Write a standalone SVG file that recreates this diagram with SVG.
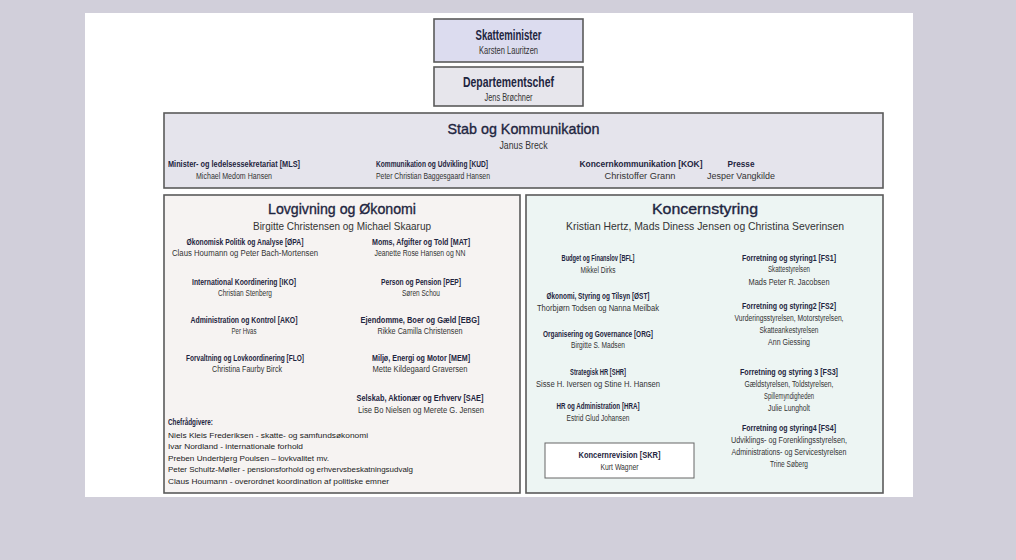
<svg xmlns="http://www.w3.org/2000/svg" width="1016" height="560" viewBox="0 0 1016 560">
<style>
text{font-family:"Liberation Sans","DejaVu Sans",sans-serif;}
.box{stroke:#5a5a5a;stroke-width:1.6;}
.t1{font-size:14px;font-weight:bold;fill:#1e2540;text-anchor:middle;}
.t2{font-size:15px;fill:#1e2540;text-anchor:middle;stroke:#1e2540;stroke-width:0.35;}
.s1{font-size:11px;fill:#333;text-anchor:middle;}
.h{font-size:8.8px;font-weight:bold;fill:#1e2540;text-anchor:middle;}
.n{font-size:8.5px;fill:#333;text-anchor:middle;}
.c{font-size:7.5px;fill:#222;}
.cb{font-size:8.5px;font-weight:bold;fill:#1e2540;}
</style>
<rect x="0" y="0" width="1016" height="560" fill="#d1cfda"/>
<rect x="85" y="13" width="828" height="484" fill="#ffffff"/>

<g id="skatteminister">
<rect class="box" x="434" y="19" width="149" height="43" fill="#dcdcef"/>
<text class="t1" x="508.5" y="40" textLength="66" lengthAdjust="spacingAndGlyphs">Skatteminister</text>
<text class="s1" x="508.5" y="54" textLength="59" lengthAdjust="spacingAndGlyphs">Karsten Lauritzen</text>
</g>

<g id="departementschef">
<rect class="box" x="434" y="67" width="149" height="39" fill="#e7e6ec"/>
<text class="t1" x="508.5" y="87" textLength="91" lengthAdjust="spacingAndGlyphs">Departementschef</text>
<text class="s1" x="508.5" y="101" textLength="48" lengthAdjust="spacingAndGlyphs">Jens Brøchner</text>
</g>

<g id="stab">
<rect class="box" x="164" y="113" width="719" height="75" fill="#e5e4ec"/>
<text class="t2" x="523.5" y="134" textLength="152" lengthAdjust="spacingAndGlyphs">Stab og Kommunikation</text>
<text class="s1" x="523.5" y="149" textLength="48" lengthAdjust="spacingAndGlyphs">Janus Breck</text>
<text class="h" x="234" y="167" textLength="132" lengthAdjust="spacingAndGlyphs">Minister- og ledelsessekretariat [MLS]</text>
<text class="n" x="234" y="179" textLength="76" lengthAdjust="spacingAndGlyphs">Michael Medom Hansen</text>
<text class="h" x="432" y="167" textLength="112" lengthAdjust="spacingAndGlyphs">Kommunikation og Udvikling [KUD]</text>
<text class="n" x="433" y="179" textLength="114" lengthAdjust="spacingAndGlyphs">Peter Christian Baggesgaard Hansen</text>
<text class="h" x="641" y="167" textLength="123" lengthAdjust="spacingAndGlyphs">Koncernkommunikation [KOK]</text>
<text class="n" x="640" y="179" textLength="71" lengthAdjust="spacingAndGlyphs">Christoffer Grann</text>
<text class="h" x="741" y="167" textLength="27" lengthAdjust="spacingAndGlyphs">Presse</text>
<text class="n" x="741" y="179" textLength="68" lengthAdjust="spacingAndGlyphs">Jesper Vangkilde</text>
</g>

<g id="lovgivning">
<rect class="box" x="164" y="195" width="356" height="298" fill="#f6f3f2"/>
<text class="t2" x="342" y="214" textLength="148" lengthAdjust="spacingAndGlyphs">Lovgivning og Økonomi</text>
<text class="s1" x="342" y="230" textLength="178" lengthAdjust="spacingAndGlyphs">Birgitte Christensen og Michael Skaarup</text>

<text class="h" x="245" y="245" textLength="117" lengthAdjust="spacingAndGlyphs">Økonomisk Politik og Analyse [ØPA]</text>
<text class="n" x="245" y="256" textLength="146" lengthAdjust="spacingAndGlyphs">Claus Houmann og Peter Bach-Mortensen</text>
<text class="h" x="244" y="285" textLength="104" lengthAdjust="spacingAndGlyphs">International Koordinering [IKO]</text>
<text class="n" x="245" y="296" textLength="54" lengthAdjust="spacingAndGlyphs">Christian Stenberg</text>
<text class="h" x="244" y="323" textLength="107" lengthAdjust="spacingAndGlyphs">Administration og Kontrol [AKO]</text>
<text class="n" x="244" y="334" textLength="25" lengthAdjust="spacingAndGlyphs">Per Hvas</text>
<text class="h" x="245" y="361" textLength="118" lengthAdjust="spacingAndGlyphs">Forvaltning og Lovkoordinering [FLO]</text>
<text class="n" x="247" y="372" textLength="70" lengthAdjust="spacingAndGlyphs">Christina Faurby Birck</text>

<text class="h" x="421" y="245" textLength="98" lengthAdjust="spacingAndGlyphs">Moms, Afgifter og Told [MAT]</text>
<text class="n" x="420" y="256" textLength="91" lengthAdjust="spacingAndGlyphs">Jeanette Rose Hansen og NN</text>
<text class="h" x="421" y="285" textLength="80" lengthAdjust="spacingAndGlyphs">Person og Pension [PEP]</text>
<text class="n" x="421" y="296" textLength="38" lengthAdjust="spacingAndGlyphs">Søren Schou</text>
<text class="h" x="420" y="323" textLength="119" lengthAdjust="spacingAndGlyphs">Ejendomme, Boer og Gæld [EBG]</text>
<text class="n" x="420" y="334" textLength="85" lengthAdjust="spacingAndGlyphs">Rikke Camilla Christensen</text>
<text class="h" x="421" y="361" textLength="98" lengthAdjust="spacingAndGlyphs">Miljø, Energi og Motor [MEM]</text>
<text class="n" x="420" y="372" textLength="95" lengthAdjust="spacingAndGlyphs">Mette Kildegaard Graversen</text>
<text class="h" x="420" y="401" textLength="127" lengthAdjust="spacingAndGlyphs">Selskab, Aktionær og Erhverv [SAE]</text>
<text class="n" x="421" y="413" textLength="126" lengthAdjust="spacingAndGlyphs">Lise Bo Nielsen og Merete G. Jensen</text>

<text class="cb" x="168" y="425" textLength="45" lengthAdjust="spacingAndGlyphs">Chefrådgivere:</text>
<text class="c" x="168" y="438" textLength="200" lengthAdjust="spacingAndGlyphs">Niels Kleis Frederiksen - skatte- og samfundsøkonomi</text>
<text class="c" x="168" y="449" textLength="135" lengthAdjust="spacingAndGlyphs">Ivar Nordland - internationale forhold</text>
<text class="c" x="168" y="461" textLength="161" lengthAdjust="spacingAndGlyphs">Preben Underbjerg Poulsen – lovkvalitet mv.</text>
<text class="c" x="168" y="472" textLength="245" lengthAdjust="spacingAndGlyphs">Peter Schultz-Møller - pensionsforhold og erhvervsbeskatningsudvalg</text>
<text class="c" x="168" y="484" textLength="221" lengthAdjust="spacingAndGlyphs">Claus Houmann - overordnet koordination af politiske emner</text>
</g>

<g id="koncernstyring">
<rect class="box" x="526" y="195" width="357" height="298" fill="#edf5f3"/>
<text class="t2" x="705" y="214" textLength="106" lengthAdjust="spacingAndGlyphs">Koncernstyring</text>
<text class="s1" x="705" y="230" textLength="278" lengthAdjust="spacingAndGlyphs">Kristian Hertz, Mads Diness Jensen og Christina Severinsen</text>

<text class="h" x="598" y="261" textLength="73" lengthAdjust="spacingAndGlyphs">Budget og Finanslov [BFL]</text>
<text class="n" x="598" y="273" textLength="35" lengthAdjust="spacingAndGlyphs">Mikkel Dirks</text>
<text class="h" x="598" y="299" textLength="103" lengthAdjust="spacingAndGlyphs">Økonomi, Styring og Tilsyn [ØST]</text>
<text class="n" x="598" y="311" textLength="122" lengthAdjust="spacingAndGlyphs">Thorbjørn Todsen og Nanna Meilbak</text>
<text class="h" x="598" y="337" textLength="110" lengthAdjust="spacingAndGlyphs">Organisering og Governance [ORG]</text>
<text class="n" x="598" y="348" textLength="54" lengthAdjust="spacingAndGlyphs">Birgitte S. Madsen</text>
<text class="h" x="598" y="375" textLength="56" lengthAdjust="spacingAndGlyphs">Strategisk HR [SHR]</text>
<text class="n" x="598" y="387" textLength="124" lengthAdjust="spacingAndGlyphs">Sisse H. Iversen og Stine H. Hansen</text>
<text class="h" x="598" y="409" textLength="83" lengthAdjust="spacingAndGlyphs">HR og Administration [HRA]</text>
<text class="n" x="598" y="421" textLength="63" lengthAdjust="spacingAndGlyphs">Estrid Glud Johansen</text>

<text class="h" x="789" y="261" textLength="94" lengthAdjust="spacingAndGlyphs">Forretning og styring1 [FS1]</text>
<text class="n" x="789" y="272" textLength="42" lengthAdjust="spacingAndGlyphs">Skattestyrelsen</text>
<text class="n" x="789" y="285" textLength="81" lengthAdjust="spacingAndGlyphs">Mads Peter R. Jacobsen</text>
<text class="h" x="789" y="309" textLength="94" lengthAdjust="spacingAndGlyphs">Forretning og styring2 [FS2]</text>
<text class="n" x="789" y="321" textLength="109" lengthAdjust="spacingAndGlyphs">Vurderingsstyrelsen, Motorstyrelsen,</text>
<text class="n" x="789" y="333" textLength="59" lengthAdjust="spacingAndGlyphs">Skatteankestyrelsen</text>
<text class="n" x="789" y="345" textLength="42" lengthAdjust="spacingAndGlyphs">Ann Giessing</text>
<text class="h" x="789" y="375" textLength="98" lengthAdjust="spacingAndGlyphs">Forretning og styring 3 [FS3]</text>
<text class="n" x="789" y="387" textLength="89" lengthAdjust="spacingAndGlyphs">Gældstyrelsen, Toldstyrelsen,</text>
<text class="n" x="789" y="399" textLength="50" lengthAdjust="spacingAndGlyphs">Spillemyndigheden</text>
<text class="n" x="789" y="411" textLength="42" lengthAdjust="spacingAndGlyphs">Julie Lungholt</text>
<text class="h" x="789" y="431" textLength="94" lengthAdjust="spacingAndGlyphs">Forretning og styring4 [FS4]</text>
<text class="n" x="789" y="443" textLength="116" lengthAdjust="spacingAndGlyphs">Udviklings- og Forenklingsstyrelsen,</text>
<text class="n" x="789" y="455" textLength="115" lengthAdjust="spacingAndGlyphs">Administrations- og Servicestyrelsen</text>
<text class="n" x="789" y="467" textLength="38" lengthAdjust="spacingAndGlyphs">Trine Søberg</text>
</g>

<g id="koncernrevision">
<rect x="545" y="443" width="149" height="35" fill="#ffffff" stroke="#666" stroke-width="1"/>
<text class="h" x="619.5" y="458" textLength="82" lengthAdjust="spacingAndGlyphs">Koncernrevision [SKR]</text>
<text class="n" x="619.5" y="470" textLength="38" lengthAdjust="spacingAndGlyphs">Kurt Wagner</text>
</g>

<g id="connectors"></g>
</svg>
